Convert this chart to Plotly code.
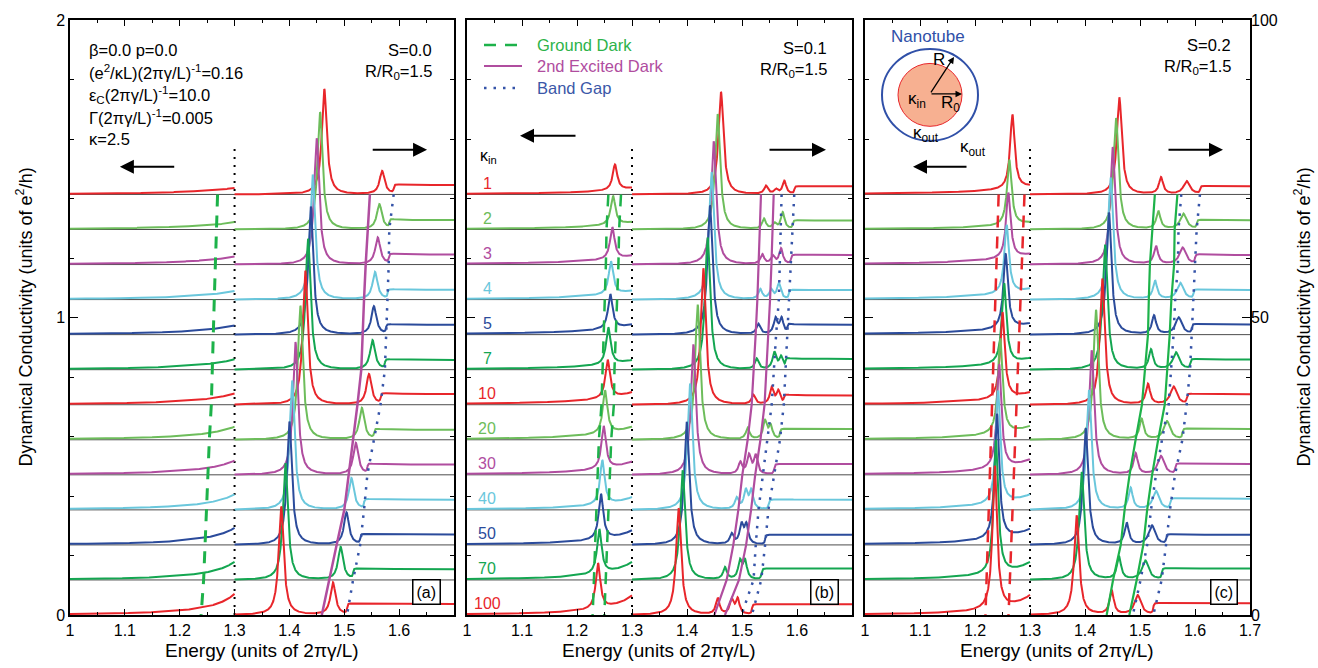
import numpy as np
import plotly.graph_objects as go

# ---------------- data ----------------
KAPPA_IN = [1, 2, 3, 4, 5, 7, 10, 20, 30, 40, 50, 70, 100]
CURVE_COLORS = ["#e8262b", "#6dbd5b", "#b04d9f", "#6ac7dc", "#2b4b9b", "#14a651",
                "#e8262b", "#6dbd5b", "#b04d9f", "#6ac7dc", "#2b4b9b", "#14a651", "#e8262b"]
LEVEL_STEP = 0.1178      # offset between stacked curves (left-axis units)
RIGHT_FACTOR = 50        # right axis = 50 x left axis

# ---- panel (a) S=0.0 ----
A_MAIN_E = [1.4636, 1.4558, 1.4497, 1.4424, 1.4390, 1.4340, 1.4290, 1.4200, 1.4110, 1.4050, 1.4000, 1.3927, 1.3850]
A_MAIN_H = [17.7, 19.7, 21.2, 21.0, 21.5, 22.0, 22.5, 22.5, 22.3, 21.7, 20.7, 19.6, 18.2]
A_P2_E = [1.569, 1.564, 1.561, 1.556, 1.554, 1.5515, 1.545, 1.532, 1.521, 1.513, 1.504, 1.4933, 1.4794]
A_P2_H = [3.9, 4.2, 4.5, 4.6, 4.7, 4.9, 5.1, 5.3, 5.3, 5.3, 5.4, 5.5, 5.4]
A_GAP = [1.590, 1.582, 1.581, 1.579, 1.576, 1.574, 1.566, 1.554, 1.542, 1.536, 1.529, 1.516, 1.505]
A_PLAT = [1.57, 1.57, 1.68, 1.63, 1.63, 1.63, 1.78, 1.68, 1.73, 1.71, 1.74, 1.80, 1.85]
A_RISE13 = [0.022, 0.025, 0.027, 0.029, 0.031, 0.035, 0.038, 0.044, 0.048, 0.052, 0.057, 0.061, 0.071]
A_GROUND_DARK = [1.269, 1.2667, 1.265, 1.263, 1.2612, 1.2594, 1.2576, 1.254, 1.2515, 1.249, 1.2473, 1.2436, 1.239]
A_EXC2_DARK = [1.5467, 1.5424, 1.539, 1.536, 1.533, 1.531, 1.524, 1.516, 1.509, 1.500, 1.486, 1.4727, 1.459]

# ---- panel (b) S=0.1 ----
B_LEFT_E = [1.269, 1.2655, 1.2642, 1.2618, 1.2606, 1.257, 1.2558, 1.251, 1.2485, 1.246, 1.2436, 1.2406, 1.2382]
B_LEFT_H = [0.086, 0.098, 0.107, 0.111, 0.116, 0.124, 0.129, 0.144, 0.144, 0.149, 0.152, 0.149, 0.153]
B_RISE13 = [0.021, 0.024, 0.029, 0.029, 0.033, 0.031, 0.041, 0.043, 0.044, 0.042, 0.048, 0.060, 0.065]
B_MAIN_E = [1.4618, 1.4558, 1.4485, 1.4448, 1.4418, 1.4376, 1.4297, 1.4194, 1.4115, 1.4055, 1.3994, 1.3921, 1.3848]
B_MAIN_H = [17.2, 19.4, 20.7, 21.4, 21.7, 22.2, 22.9, 22.7, 21.9, 21.2, 20.7, 18.4, 17.9]
B_P2_E = [1.5436, 1.5400, 1.537, 1.5333, 1.5297, 1.5267, 1.5206, 1.5103, 1.497, 1.4903, 1.4812, 1.4691, 1.4558]
B_P2_H = [1.35, 1.7, 1.6, 1.65, 1.7, 1.75, 1.55, 1.9, 1.95, 1.85, 1.7, 2.0, 2.7]
B_P3_E = [1.562, 1.559, 1.556, 1.553, 1.561, 1.5588, 1.5539, 1.5418, 1.5127, 1.5067, 1.499, 1.4964, 1.4812]
B_P3_H = [0.75, 0.9, 1.3, 1.5, 2.6, 2.8, 2.7, 3.0, 3.1, 3.1, 3.2, 3.0, 2.4]
B_P4_E = [1.577, 1.574, 1.571, 1.567, 1.572, 1.571, 1.566, 1.552, 1.5248, 1.517, 1.5079, 1.5055, 1.4921]
B_P4_H = [2.2, 2.8, 2.6, 2.6, 2.6, 2.0, 2.2, 2.2, 3.1, 3.1, 3.2, 3.0, 2.6]
B_GAP2 = [1.595, 1.592, 1.589, 1.585, 1.582, 1.579, 1.576, 1.569, 1.558, 1.548, 1.542, 1.535, 1.518]
B_PLAT = [1.35, 1.5, 1.6, 1.6, 1.65, 1.8, 1.55, 1.8, 1.8, 1.7, 1.7, 1.9, 1.8]
B_GROUND_DARK_1 = [1.257, 1.2537, 1.2525, 1.2502, 1.2491, 1.2456, 1.2445, 1.2398, 1.2374, 1.2350, 1.2327, 1.2298, 1.2285]
B_GROUND_DARK_2 = [1.280, 1.2766, 1.2753, 1.2729, 1.2717, 1.2681, 1.2670, 1.2622, 1.2598, 1.2574, 1.2551, 1.2521, 1.2497]
B_EXC2_DARK_1 = [1.5345, 1.5327, 1.5303, 1.5279, 1.5248, 1.5218, 1.5176, 1.5103, 1.5006, 1.4933, 1.4842, 1.4721, 1.4497]
B_EXC2_DARK_2 = [1.5576, 1.556, 1.5535, 1.551, 1.548, 1.545, 1.541, 1.5335, 1.524, 1.5165, 1.5075, 1.4945, 1.469]
B_GAP_LINE_1 = [1.572, 1.570, 1.569, 1.567, 1.562, 1.558, 1.554, 1.546, 1.538, 1.530, 1.525, 1.521, 1.499]

# ---- panel (c) S=0.2 ----
C_LEFT_E = [1.268, 1.2624, 1.2606, 1.2576, 1.2558, 1.2530, 1.2500, 1.2460, 1.2440, 1.2420, 1.2400, 1.2380, 1.2360]
C_LEFT_H = [0.25, 0.22, 0.22, 0.23, 0.25, 0.27, 0.29, 0.32, 0.35, 0.38, 0.42, 0.45, 0.48]
C_RISE13 = [0.027, 0.022, 0.034, 0.035, 0.036, 0.037, 0.040, 0.044, 0.050, 0.050, 0.052, 0.058, 0.065]
C_MAIN_E = [1.4624, 1.4564, 1.4503, 1.4467, 1.4436, 1.4364, 1.4315, 1.4200, 1.4121, 1.4073, 1.4012, 1.3940, 1.3848]
C_MAIN_H = [16.3, 18.7, 19.7, 20.5, 20.5, 21.0, 21.2, 21.8, 20.9, 20.1, 19.6, 18.1, 16.7]
C_P2_E = [1.5382, 1.5333, 1.5291, 1.5273, 1.5255, 1.5200, 1.5145, 1.5030, 1.4921, 1.4830, 1.4758, 1.4618, 1.4485]
C_P2_H = [2.8, 3.0, 3.0, 3.1, 3.1, 3.3, 3.4, 3.4, 3.5, 3.6, 3.6, 3.8, 4.0]
C_P3_E = [1.5848, 1.5788, 1.5776, 1.5733, 1.5703, 1.5655, 1.5612, 1.5491, 1.5382, 1.5291, 1.5218, 1.5097, 1.4958]
C_P3_H = [2.2, 2.6, 2.8, 2.75, 2.85, 2.85, 3.0, 3.05, 3.1, 3.1, 3.2, 3.2, 3.25]
C_GAP2 = [1.609, 1.603, 1.600, 1.597, 1.594, 1.591, 1.5848, 1.577, 1.5636, 1.5545, 1.5473, 1.5394, 1.5242]
C_PLAT = [1.35, 1.55, 1.6, 1.6, 1.7, 1.7, 1.75, 1.8, 1.8, 1.85, 1.7, 1.9, 1.95]
C_GROUND_DARK_1 = [1.243, 1.241, 1.239, 1.237, 1.235, 1.233, 1.231, 1.229, 1.227, 1.225, 1.223, 1.221, 1.219]
C_GROUND_DARK_2 = [1.290, 1.2875, 1.285, 1.2825, 1.280, 1.2775, 1.275, 1.2725, 1.270, 1.2675, 1.265, 1.263, 1.261]
C_EXC2_DARK_1 = [1.527, 1.522, 1.518, 1.516, 1.5145, 1.509, 1.5035, 1.492, 1.481, 1.472, 1.465, 1.451, 1.4394]
C_EXC2_DARK_2 = [1.568, 1.563, 1.562, 1.557, 1.554, 1.5495, 1.545, 1.533, 1.522, 1.513, 1.506, 1.494, 1.4806]
C_GAP_LINE_1 = [1.575, 1.570, 1.569, 1.564, 1.561, 1.5565, 1.552, 1.540, 1.529, 1.520, 1.513, 1.501, 1.487]

X_TICKS_AB = [1.0, 1.1, 1.2, 1.3, 1.4, 1.5, 1.6]
X_TICK_TEXT_AB = ["1", "1.1", "1.2", "1.3", "1.4", "1.5", "1.6"]
X_TICKS_C = [1.0, 1.1, 1.2, 1.3, 1.4, 1.5, 1.6, 1.7]
X_TICK_TEXT_C = ["1", "1.1", "1.2", "1.3", "1.4", "1.5", "1.6", "1.7"]

# ---------------- line shapes ----------------
GAMMA = 0.0055
E_LEFT = np.linspace(1.0, 1.3, 901)
E_RIGHT = np.linspace(1.3, 1.7, 1601)


def lorentz(E, e0, h, g=GAMMA):
    return h * g * g / ((E - e0) ** 2 + g * g)


def onset(E, e0, h, w=0.0010):
    return h * (0.5 + np.arctan((E - e0) / w) / np.pi)


def left_part(Em, rise, peak_e=None, peak_h=None):
    g2 = GAMMA ** 2
    y = rise * ((Em - 1.3) ** 2 + g2) / ((Em - E_LEFT) ** 2 + g2)
    if peak_e is not None:
        y = y + lorentz(E_LEFT, peak_e, peak_h, 0.005)
    return y


def right_part(peaks, gap, plat):
    y = np.zeros_like(E_RIGHT)
    for e0, h, g in peaks:
        y = y + lorentz(E_RIGHT, e0, h, g)
    y = y + onset(E_RIGHT, gap, plat)
    return y / RIGHT_FACTOR


N = len(KAPPA_IN)
LEVELS = [(N - 1 - i) * LEVEL_STEP for i in range(N)]

panels = []
pa = []
for i in range(N):
    L = left_part(A_MAIN_E[i], A_RISE13[i])
    R = right_part([(A_MAIN_E[i], A_MAIN_H[i], GAMMA), (A_P2_E[i], A_P2_H[i], GAMMA)], A_GAP[i], A_PLAT[i])
    pa.append((L, R))
panels.append(pa)
pb = []
for i in range(N):
    L = left_part(B_MAIN_E[i], B_RISE13[i], B_LEFT_E[i], B_LEFT_H[i])
    R = right_part([(B_MAIN_E[i], B_MAIN_H[i], GAMMA), (B_P2_E[i], B_P2_H[i], 0.004),
                    (B_P3_E[i], B_P3_H[i], 0.004), (B_P4_E[i], B_P4_H[i], 0.004)], B_GAP2[i], B_PLAT[i])
    pb.append((L, R))
panels.append(pb)
pc = []
for i in range(N):
    L = left_part(C_MAIN_E[i], C_RISE13[i], C_LEFT_E[i], C_LEFT_H[i])
    R = right_part([(C_MAIN_E[i], C_MAIN_H[i], GAMMA), (C_P2_E[i], C_P2_H[i], 0.0045),
                    (C_P3_E[i], C_P3_H[i], 0.007)], C_GAP2[i], C_PLAT[i])
    pc.append((L, R))
panels.append(pc)

fig = go.Figure()
XA = ["x", "x2", "x3"]
YA = ["y", "y2", "y3"]

for p in range(3):
    xa, ya = XA[p], YA[p]
    for lev in LEVELS[:-1]:
        fig.add_trace(go.Scatter(x=[1.0, 1.7], y=[lev, lev], mode="lines",
                                 line=dict(color="#4d4d4d", width=1), xaxis=xa, yaxis=ya,
                                 showlegend=False, hoverinfo="skip"))
    fig.add_trace(go.Scatter(x=[1.3, 1.3], y=[0, 1.58], mode="lines",
                             line=dict(color="black", width=2, dash="2px,6px"),
                             xaxis=xa, yaxis=ya, showlegend=False, hoverinfo="skip"))
    for i in range(N):
        L, R = panels[p][i]
        fig.add_trace(go.Scatter(x=E_LEFT, y=L + LEVELS[i], mode="lines",
                                 line=dict(color=CURVE_COLORS[i], width=2),
                                 xaxis=xa, yaxis=ya, showlegend=False, hoverinfo="skip"))
        fig.add_trace(go.Scatter(x=E_RIGHT, y=R + LEVELS[i], mode="lines",
                                 line=dict(color=CURVE_COLORS[i], width=2),
                                 xaxis=xa, yaxis=ya, showlegend=False, hoverinfo="skip"))


def marker_line(E, xa, ya, color, dash, width):
    fig.add_trace(go.Scatter(x=E, y=LEVELS, mode="lines",
                             line=dict(color=color, width=width, dash=dash),
                             xaxis=xa, yaxis=ya, showlegend=False, hoverinfo="skip"))


GREEN_D = "#1db24a"
MAG = "#b04d9f"
BLUE_D = "#3553a8"
RED_D = "#e8262b"
marker_line(A_GROUND_DARK, "x", "y", GREEN_D, "12px,9px", 3)
marker_line(A_EXC2_DARK, "x", "y", MAG, "solid", 2.5)
marker_line(A_GAP, "x", "y", BLUE_D, "2.5px,7px", 2.5)
marker_line(B_GROUND_DARK_1, "x2", "y2", GREEN_D, "12px,9px", 2.5)
marker_line(B_GROUND_DARK_2, "x2", "y2", GREEN_D, "12px,9px", 2.5)
marker_line(B_EXC2_DARK_1, "x2", "y2", MAG, "solid", 2.2)
marker_line(B_EXC2_DARK_2, "x2", "y2", MAG, "solid", 2.2)
marker_line(B_GAP_LINE_1, "x2", "y2", BLUE_D, "2.5px,7px", 2.5)
marker_line(B_GAP2, "x2", "y2", BLUE_D, "2.5px,7px", 2.5)
marker_line(C_GROUND_DARK_1, "x3", "y3", RED_D, "12px,9px", 2.5)
marker_line(C_GROUND_DARK_2, "x3", "y3", RED_D, "12px,9px", 2.5)
marker_line(C_EXC2_DARK_1, "x3", "y3", GREEN_D, "solid", 2.2)
marker_line(C_EXC2_DARK_2, "x3", "y3", GREEN_D, "solid", 2.2)
marker_line(C_GAP_LINE_1, "x3", "y3", BLUE_D, "2.5px,7px", 2.5)
marker_line(C_GAP2, "x3", "y3", BLUE_D, "2.5px,7px", 2.5)

FONT = "Liberation Sans, Arial, Helvetica, sans-serif"
W, H = 1318, 668
ML, MR, MT, MB = 70, 68, 18, 53
PW = W - ML - MR
PH = H - MT - MB
doms = [(0.0, 384 / PW), ((467 - ML) / PW, (852 - ML) / PW), ((865 - ML) / PW, 1.0)]

axis_common = dict(showline=True, linecolor="black", linewidth=1.5, mirror="ticks",
                   ticks="inside", tickcolor="black", showgrid=False, zeroline=False,
                   tickfont=dict(family=FONT, size=16, color="black"))

layout = dict(width=W, height=H, margin=dict(l=ML, r=MR, t=MT, b=MB),
              paper_bgcolor="white", plot_bgcolor="white", showlegend=False,
              font=dict(family=FONT, size=16, color="black"))
for p in range(3):
    key = "xaxis" if p == 0 else "xaxis%d" % (p + 1)
    tv = X_TICKS_C if p == 2 else X_TICKS_AB
    tt = X_TICK_TEXT_C if p == 2 else X_TICK_TEXT_AB
    layout[key] = dict(axis_common, domain=list(doms[p]), range=[1.0, 1.7], anchor=YA[p],
                       tickmode="array", tickvals=tv, ticktext=tt, ticklen=6,
                       minor=dict(ticks="inside", dtick=0.05, tick0=1.0, ticklen=3, tickcolor="black"))
    ykey = "yaxis" if p == 0 else "yaxis%d" % (p + 1)
    layout[ykey] = dict(axis_common, range=[0, 2], anchor=XA[p], tickmode="linear", tick0=0, dtick=1,
                        ticklen=8, showticklabels=(p == 0),
                        minor=dict(ticks="inside", dtick=0.2, ticklen=4, tickcolor="black"))
layout["yaxis4"] = dict(overlaying="y3", side="right", anchor="x3", range=[0, 100],
                        tickmode="array", tickvals=[0, 50, 100], ticktext=["0", "50", "100"],
                        ticks="", showline=False, showgrid=False, zeroline=False,
                        tickfont=dict(family=FONT, size=16, color="black"))
fig.update_layout(**layout)
fig.add_trace(go.Scatter(x=[1.0], y=[0], xaxis="x3", yaxis="y4", mode="markers",
                         marker=dict(opacity=0), showlegend=False, hoverinfo="skip"))

ann = []


def txt(x, y, s, xa, ya, size=16, color="black", xanchor="left"):
    ann.append(dict(x=x, y=y, xref=xa, yref=ya, text=s, showarrow=False, xanchor=xanchor,
                    yanchor="middle", font=dict(family=FONT, size=size, color=color)))


def ypx(py):
    return (614 - py) / 298.0


def ex(p, px):
    starts = [70, 467, 865]
    return 1 + (px - starts[p]) / 550.0


for s, py in [("β=0.0 p=0.0", 48), ("(e<sup>2</sup>/κL)(2πγ/L)<sup>-1</sup>=0.16", 70),
              ("ε<sub>C</sub>(2πγ/L)<sup>-1</sup>=10.0", 93), ("Γ(2πγ/L)<sup>-1</sup>=0.005", 115),
              ("κ=2.5", 137)]:
    txt(ex(0, 87), ypx(py), s, "x", "y", size=16.5)
for p, s in enumerate(["S=0.0", "S=0.1", "S=0.2"]):
    xs = [435, 829, 1233][p]
    txt(ex(p, xs), ypx([48, 46, 43][p]), s, XA[p], YA[p], size=16.5, xanchor="right")
    txt(ex(p, xs), ypx([70, 68, 65][p]), "R/R<sub>0</sub>=1.5", XA[p], YA[p], size=16.5, xanchor="right")

txt(ex(1, 535), ypx(43), "Ground Dark", "x2", "y2", size=16.5, color="#2db34a")
txt(ex(1, 535), ypx(64), "2nd Excited Dark", "x2", "y2", size=16.5, color=MAG)
txt(ex(1, 535), ypx(86), "Band Gap", "x2", "y2", size=16.5, color="#3b57a8")
for py, col, dash, wd in [(43, GREEN_D, "12px,9px", 2.5), (64, MAG, "solid", 2), (86, BLUE_D, "2.5px,7px", 2.5)]:
    fig.add_trace(go.Scatter(x=[ex(1, 484), ex(1, 522)], y=[ypx(py), ypx(py)], mode="lines",
                             line=dict(color=col, width=wd, dash=dash), xaxis="x2", yaxis="y2",
                             showlegend=False, hoverinfo="skip"))

txt(ex(1, 488), ypx(155), "κ<sub>in</sub>", "x2", "y2", xanchor="center")
for i, k in enumerate(KAPPA_IN):
    txt(ex(1, 487), LEVELS[i] + 0.037, str(k), "x2", "y2", color=CURVE_COLORS[i], xanchor="center")

for p, s in enumerate(["(a)", "(b)", "(c)"]):
    cx = [427, 824, 1224][p]
    ann.append(dict(x=ex(p, cx), y=ypx(591), xref=XA[p], yref=YA[p], text=s, showarrow=False,
                    bordercolor="black", borderwidth=1.5, borderpad=3, bgcolor="white",
                    font=dict(family=FONT, size=16, color="black")))

arrows = [(0, 120, 176, 165), (0, 428, 372, 148), (1, 520, 577, 134), (1, 826, 768, 148),
          (2, 913, 968, 165), (2, 1223, 1167, 148)]
for p, hx, tx, py in arrows:
    ann.append(dict(x=ex(p, hx), y=ypx(py), ax=ex(p, tx), ay=ypx(py), xref=XA[p], yref=YA[p],
                    axref=XA[p], ayref=YA[p], text="", showarrow=True, arrowhead=2,
                    arrowsize=1.4, arrowwidth=2, arrowcolor="black"))

cxp, cyp = 930, 93
fig.add_shape(type="circle", xref="x3", yref="y3", x0=ex(2, cxp - 48), x1=ex(2, cxp + 48),
              y0=ypx(cyp + 46), y1=ypx(cyp - 46), line=dict(color="#3050a8", width=2))
fig.add_shape(type="circle", xref="x3", yref="y3", x0=ex(2, cxp - 32), x1=ex(2, cxp + 32),
              y0=ypx(cyp + 31.5), y1=ypx(cyp - 31.5), line=dict(color="#e8262b", width=1),
              fillcolor="#f7b091")
txt(ex(2, 928), ypx(35), "Nanotube", "x3", "y3", size=17, color="#3050a8", xanchor="center")
txt(ex(2, 939), ypx(58), "R", "x3", "y3", size=17, xanchor="center")
txt(ex(2, 950), ypx(102), "R<sub>0</sub>", "x3", "y3", size=17, xanchor="center")
txt(ex(2, 917), ypx(98), "κ<sub>in</sub>", "x3", "y3", size=17, xanchor="center")
txt(ex(2, 926), ypx(132), "κ<sub>out</sub>", "x3", "y3", size=17, xanchor="center")
txt(ex(2, 973), ypx(146), "κ<sub>out</sub>", "x3", "y3", size=17, xanchor="center")
for hx, hy in [(954, 55), (962, 92)]:
    ann.append(dict(x=ex(2, hx), y=ypx(hy), ax=ex(2, cxp), ay=ypx(92), xref="x3", yref="y3",
                    axref="x3", ayref="y3", text="", showarrow=True, arrowhead=2,
                    arrowsize=1.0, arrowwidth=1.3, arrowcolor="black"))

for p in range(3):
    cx = [262, 659, 1057][p]
    ann.append(dict(x=(cx - ML) / PW, y=-(651 - (H - MB)) / PH, xref="paper", yref="paper",
                    xanchor="center", yanchor="middle",
                    text="Energy (units of 2πγ/L)", showarrow=False,
                    font=dict(family=FONT, size=19, color="black")))
ytitle = "Dynamical Conductivity (units of e<sup>2</sup>/h)"
ann.append(dict(x=(25 - ML) / PW, y=0.5, xref="paper", yref="paper", text=ytitle, textangle=-90,
                xanchor="center", yanchor="middle",
                showarrow=False, font=dict(family=FONT, size=18, color="black")))
ann.append(dict(x=(1303 - ML) / PW, y=0.5, xref="paper", yref="paper", text=ytitle, textangle=-90,
                xanchor="center", yanchor="middle",
                showarrow=False, font=dict(family=FONT, size=18, color="black")))

fig.update_layout(annotations=ann)
fig.write_html("out.html")
